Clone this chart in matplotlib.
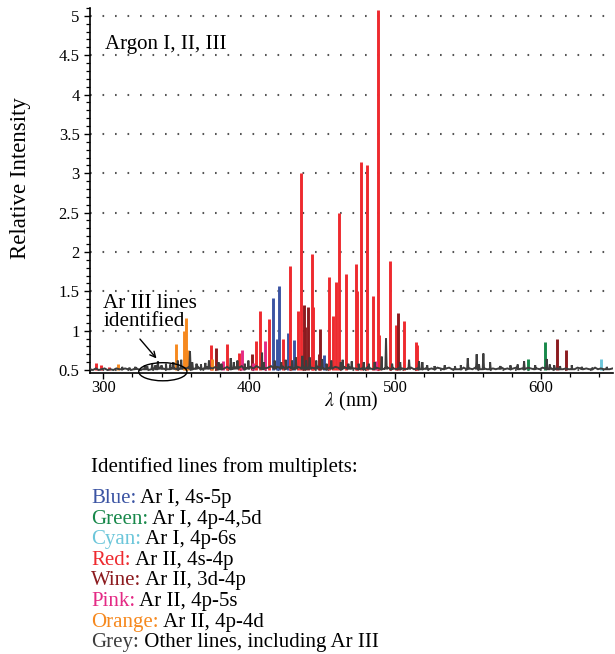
import numpy as np
import matplotlib
matplotlib.use("Agg")
import matplotlib.pyplot as plt
from matplotlib.patches import Ellipse
from matplotlib.ticker import MultipleLocator, FuncFormatter

# ---------------- data (wavelength nm, relative intensity) ----------------
blue_wl = [416.2, 418.9, 420.5, 426.5, 430.8, 451.4]
blue_h = [1.41, 0.89, 1.57, 0.97, 0.88, 0.69]

green_wl = [590.9, 602.7]
green_h = [0.64, 0.85]

cyan_wl = [641.1]
cyan_h = [0.64]

red_wl = [295.0, 298.8, 304.3, 373.6, 384.8, 393.4, 404.6, 407.5, 413.7, 423.2,
          428.3, 433.4, 435.3, 443.0, 444.0, 454.9, 457.7, 459.6, 461.4, 466.2,
          473.1, 473.8, 476.7, 480.8, 484.9, 488.0, 489.2, 496.6, 500.7, 506.2,
          514.2, 514.9]
red_h = [0.59, 0.56, 0.54, 0.82, 0.83, 0.71, 0.87, 1.25, 1.15, 0.89,
         1.82, 1.25, 3.00, 1.97, 1.30, 1.68, 1.18, 1.62, 2.49, 1.72,
         1.85, 1.50, 3.14, 3.10, 1.44, 5.08, 0.95, 1.88, 1.07, 1.12,
         0.85, 0.82]

wine_wl = [377.4, 401.8, 437.7, 438.3, 440.6, 447.6, 448.6, 501.8, 610.7, 616.9]
wine_h = [0.78, 0.70, 1.33, 1.05, 1.30, 0.70, 1.02, 1.23, 0.89, 0.76]

pink_wl = [382.0, 394.8, 403.0, 411.0, 486.8]
pink_h = [0.61, 0.75, 0.59, 0.87, 0.62]

orange_wl = [310.5, 349.9, 355.2, 356.9, 358.2, 374.7]
orange_h = [0.58, 0.83, 1.00, 1.16, 0.76, 0.64]

grey_wl = [313.0, 318.0, 322.0, 328.6, 330.2, 333.6, 335.8, 337.5, 340.0, 343.0,
           346.0, 348.1, 351.1, 353.5, 359.5, 361.0, 364.0, 367.0, 370.0, 372.5,
           379.0, 381.0, 387.4, 389.5, 392.0, 397.0, 399.5, 408.9, 410.0, 417.5,
           422.0, 425.0, 429.5, 432.0, 436.5, 439.0, 441.5, 446.0, 450.0, 453.0,
           456.3, 462.8, 464.1, 468.0, 470.3, 475.0, 478.5, 482.0, 486.0, 490.9,
           493.8, 498.0, 503.5, 509.6, 516.4, 518.7, 522.0, 527.0, 534.0, 541.0,
           545.0, 549.8, 555.9, 557.5, 560.5, 565.1, 572.0, 579.0, 584.0, 588.4,
           596.0, 603.9, 606.0, 609.0, 613.0, 621.0, 628.0, 635.0, 645.0]
grey_h = [0.54, 0.53, 0.54, 0.56, 0.55, 0.57, 0.56, 0.61, 0.56, 0.58,
          0.57, 0.60, 0.62, 0.63, 0.74, 0.60, 0.58, 0.57, 0.59, 0.62,
          0.60, 0.58, 0.65, 0.60, 0.62, 0.58, 0.62, 0.72, 0.60, 0.62,
          0.60, 0.63, 0.62, 0.66, 0.68, 0.62, 0.66, 0.62, 0.64, 0.58,
          0.62, 0.60, 0.63, 0.58, 0.61, 0.58, 0.60, 0.58, 0.60, 0.67,
          0.90, 0.58, 0.60, 0.63, 0.61, 0.60, 0.56, 0.55, 0.56, 0.55,
          0.56, 0.65, 0.70, 0.57, 0.71, 0.60, 0.55, 0.56, 0.57, 0.61,
          0.56, 0.64, 0.57, 0.56, 0.55, 0.56, 0.54, 0.53, 0.54]

# baseline (noise floor) sampled every 2 nm starting at 291 nm
base_start = 291.0
base_step = 2.0
base_vals = [
    0.51, 0.50, 0.52, 0.50, 0.51, 0.52, 0.50, 0.51, 0.50, 0.52, 0.51, 0.50, 0.52, 0.51, 0.50, 0.51,
    0.52, 0.50, 0.51, 0.52, 0.50, 0.51,
    0.52, 0.51, 0.53, 0.52, 0.53, 0.51, 0.53, 0.52, 0.54, 0.52, 0.53, 0.52, 0.54, 0.53, 0.52, 0.54,
    0.53, 0.52, 0.54,
    0.53, 0.52, 0.54, 0.53, 0.55, 0.52, 0.54, 0.53, 0.52, 0.54, 0.53, 0.55, 0.52, 0.53, 0.54, 0.52,
    0.55, 0.53, 0.54, 0.52, 0.53, 0.55, 0.52, 0.54, 0.53, 0.55, 0.52, 0.54, 0.53, 0.52, 0.54, 0.53,
    0.55, 0.52, 0.54, 0.53, 0.52, 0.54, 0.53, 0.52, 0.54, 0.53, 0.52, 0.54, 0.53, 0.52, 0.54, 0.52,
    0.53, 0.52,
    0.52, 0.53, 0.52, 0.51, 0.53, 0.52, 0.51, 0.53, 0.52, 0.51, 0.52, 0.53, 0.51, 0.52, 0.51, 0.53,
    0.52, 0.51, 0.52, 0.53, 0.51, 0.52, 0.51, 0.53, 0.52, 0.51, 0.52, 0.51, 0.53, 0.52, 0.51, 0.52,
    0.53, 0.51, 0.52, 0.51, 0.52, 0.53, 0.51, 0.52, 0.51, 0.53, 0.52, 0.51, 0.52, 0.51, 0.53, 0.52,
    0.51, 0.52, 0.53, 0.51, 0.52, 0.51, 0.52, 0.53, 0.51, 0.52, 0.51, 0.53, 0.52, 0.51, 0.52, 0.51,
    0.53, 0.52, 0.51, 0.52, 0.51, 0.52, 0.53, 0.51, 0.52, 0.51, 0.52, 0.51, 0.53, 0.52, 0.51, 0.52,
    0.51, 0.52, 0.53, 0.51, 0.52, 0.51, 0.52, 0.51, 0.52,
]

legend_names = ["Blue:", "Green:", "Cyan:", "Red:", "Wine:", "Pink:", "Orange:", "Grey:"]
legend_desc = [" Ar I, 4s-5p", " Ar I, 4p-4,5d", " Ar I, 4p-6s", " Ar II, 4s-4p",
               " Ar II, 3d-4p", " Ar II, 4p-5s", " Ar II, 4p-4d",
               " Other lines, including Ar III"]

C_BLUE = "#3b54a3"
C_GREEN = "#17884a"
C_CYAN = "#6cc6da"
C_RED = "#ee2a2f"
C_WINE = "#8c1b1f"
C_PINK = "#e42a85"
C_ORANGE = "#f6891f"
C_GREY = "#3d3d3d"
legend_colors = [C_BLUE, C_GREEN, C_CYAN, C_RED, C_WINE, C_PINK, C_ORANGE, C_GREY]

BASE = 0.5
SERIF = ["Liberation Serif", "DejaVu Serif"]
plt.rcParams["font.family"] = SERIF
plt.rcParams["mathtext.fontset"] = "stix"

fig = plt.figure(figsize=(6.15, 6.54), dpi=100)
ax = fig.add_axes([90 / 615, 1 - 373 / 654, (613 - 90) / 615, (373 - 8) / 654])
ax.set_xlim(291.0, 649.3)
ax.set_ylim(0.462, 5.10)

# colored emission lines
for wl, h, c in [(blue_wl, blue_h, C_BLUE), (green_wl, green_h, C_GREEN),
                 (cyan_wl, cyan_h, C_CYAN), (red_wl, red_h, C_RED),
                 (wine_wl, wine_h, C_WINE), (pink_wl, pink_h, C_PINK),
                 (orange_wl, orange_h, C_ORANGE)]:
    ax.vlines(wl, BASE, h, colors=c, lw=2.1, zorder=2)

# grey spectrum: noise floor plus other lines
pts = [(base_start + base_step * i, v) for i, v in enumerate(base_vals)]
for w, h in zip(grey_wl, grey_h):
    pts += [(w - 0.45, 0.51), (w, h), (w + 0.45, 0.51)]
pts.sort(key=lambda p: p[0])
gx = [p[0] for p in pts]
gy = [p[1] for p in pts]
ax.plot(gx, gy, color=C_GREY, lw=1.4, zorder=3, solid_joinstyle="miter")

# axes styling
for s in ["top", "right"]:
    ax.spines[s].set_visible(False)
for s in ["left", "bottom"]:
    ax.spines[s].set_linewidth(1.2)
ax.xaxis.set_major_locator(MultipleLocator(100))
ax.xaxis.set_minor_locator(MultipleLocator(20))
ax.yaxis.set_major_locator(MultipleLocator(0.5))
ax.yaxis.set_minor_locator(MultipleLocator(0.1))
ax.yaxis.set_major_formatter(FuncFormatter(lambda v, p: "%g" % v))
ax.tick_params(axis="both", which="major", direction="out", length=4.5, width=1.0,
               labelsize=12, pad=3)
ax.tick_params(axis="x", which="major", pad=0.5)
ax.tick_params(axis="both", which="minor", direction="out", length=3, width=0.9)
ax.yaxis.grid(True, which="major", linestyle=(0, (0.8, 5.2)), color="#555555", lw=1.5)
ax.set_axisbelow(True)

ax.set_xlabel(r"$\lambda$ (nm)", fontsize=14.5, labelpad=-4)
ax.set_ylabel("Relative Intensity", fontsize=16.5)
ax.yaxis.set_label_coords(-0.112, 0.535)

ax.text(301.5, 4.63, "Argon I, II, III", fontsize=15, va="center", ha="left")
ax.text(300, 1.47, "Ar III lines\nidentified", fontsize=15.2, va="top", ha="left",
        linespacing=0.98)
ax.annotate("", xy=(337.8, 0.62), xytext=(324.0, 0.92),
            arrowprops=dict(arrowstyle="->", lw=1.0, color="black"))
ax.add_patch(Ellipse((340.9, 0.478), 33.0, 0.23, fill=False, lw=1.0,
                     edgecolor="black", clip_on=False, zorder=5))

# legend text below the chart
fs = 15
fig.text(91 / 615, 1 - 467 / 654, "Identified lines from multiplets:", fontsize=fs,
         va="center", ha="left")
y0 = 503
dy = 20.6
fig.canvas.draw()
renderer = fig.canvas.get_renderer()
for i, (nm, desc, col) in enumerate(zip(legend_names, legend_desc, legend_colors)):
    yy = 1 - (y0 + i * dy) / 654
    t1 = fig.text(91 / 615, yy, nm, fontsize=fs, color=col, va="baseline", ha="left")
    bb = t1.get_window_extent(renderer=renderer)
    x1 = fig.transFigure.inverted().transform((bb.x1, bb.y0))[0]
    fig.text(x1, yy, desc, fontsize=fs, color="black", va="baseline", ha="left")

fig.savefig("out.png", dpi=100)
